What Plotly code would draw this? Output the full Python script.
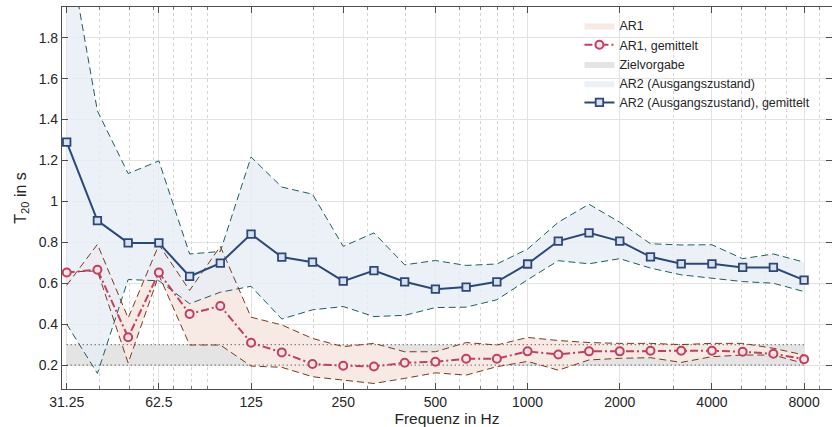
import plotly.graph_objects as go

# third-octave band centre frequencies (Hz)
freqs = [31.25, 39.37, 49.61, 62.5, 78.75, 99.21, 125, 157.49, 198.43, 250,
         314.98, 396.85, 500, 629.96, 793.7, 1000, 1259.92, 1587.4, 2000,
         2519.84, 3174.8, 4000, 5039.68, 6349.6, 8000]

ar2_mean = [1.29, 0.906, 0.797, 0.797, 0.633, 0.698, 0.84, 0.728, 0.703, 0.61,
            0.662, 0.607, 0.571, 0.581, 0.607, 0.694, 0.806, 0.846, 0.806,
            0.729, 0.695, 0.695, 0.677, 0.677, 0.615]
ar2_upper = [2.29, 1.442, 1.136, 1.198, 0.743, 0.755, 1.217, 1.07, 1.035, 0.78,
             0.846, 0.69, 0.711, 0.687, 0.694, 0.767, 0.898, 0.986, 0.898,
             0.793, 0.787, 0.788, 0.72, 0.743, 0.703]
ar2_lower = [0.4, 0.159, 0.618, 0.612, 0.5, 0.556, 0.585, 0.425, 0.47, 0.486,
             0.437, 0.443, 0.481, 0.483, 0.519, 0.617, 0.71, 0.695, 0.72,
             0.674, 0.641, 0.623, 0.608, 0.6, 0.559]

ar1_mean = [0.652, 0.666, 0.336, 0.652, 0.45, 0.489, 0.309, 0.262, 0.205, 0.197,
            0.193, 0.211, 0.216, 0.231, 0.231, 0.267, 0.252, 0.267, 0.267,
            0.27, 0.27, 0.27, 0.265, 0.255, 0.229]
ar1_bound_a = [0.59, 0.79, 0.43, 0.788, 0.565, 0.78, 0.434, 0.396, 0.33, 0.29,
               0.306, 0.265, 0.265, 0.31, 0.298, 0.335, 0.32, 0.31, 0.306,
               0.306, 0.3, 0.306, 0.306, 0.282, 0.249]
ar1_bound_b = [0.655, 0.66, 0.21, 0.64, 0.298, 0.298, 0.195, 0.189, 0.143, 0.126,
               0.11, 0.135, 0.162, 0.151, 0.192, 0.218, 0.175, 0.225, 0.233,
               0.236, 0.213, 0.241, 0.249, 0.249, 0.208]

ziel_low, ziel_high = 0.2, 0.3

x_tickvals = [31.25, 62.5, 125, 250, 500, 1000, 2000, 4000, 8000]
x_ticktext = ["31.25", "62.5", "125", "250", "500", "1000", "2000", "4000", "8000"]
x_minor = [40, 50, 60, 70, 80, 90, 200, 300, 400, 600, 700, 800, 900,
           3000, 5000, 6000, 7000, 9000]
y_tickvals = [0.2, 0.4, 0.6, 0.8, 1.0, 1.2, 1.4, 1.6, 1.8]
y_ticktext = ["0.2", "0.4", "0.6", "0.8", "1", "1.2", "1.4", "1.6", "1.8"]

C_AR1 = "#c0415f"
C_AR1_B = "#7a3a1c"
C_AR2 = "#2c4877"
C_AR2_B = "#1d5e5e"
TXT = "#262626"

fig = go.Figure()

# Zielvorgabe band
zx = [freqs[0], freqs[-1], freqs[-1], freqs[0], freqs[0]]
zy = [ziel_low, ziel_low, ziel_high, ziel_high, ziel_low]
fig.add_trace(go.Scatter(x=zx, y=zy, fill="toself", mode="lines",
                         fillcolor="rgb(228,228,228)", line=dict(width=0),
                         name="Zielvorgabe", legendrank=3, hoverinfo="skip"))

# AR1 band
fig.add_trace(go.Scatter(x=freqs + freqs[::-1], y=ar1_bound_a + ar1_bound_b[::-1],
                         fill="toself", mode="lines", fillcolor="rgb(247,234,228)",
                         line=dict(width=0), name="AR1", legendrank=1,
                         hoverinfo="skip"))

# AR2 band
fig.add_trace(go.Scatter(x=freqs + freqs[::-1], y=ar2_upper + ar2_lower[::-1],
                         fill="toself", mode="lines",
                         fillcolor="rgba(232,238,247,0.82)",
                         line=dict(width=0), name="AR2 (Ausgangszustand)",
                         legendrank=4, hoverinfo="skip"))

# Zielvorgabe dotted edges
for yv in (ziel_low, ziel_high):
    fig.add_trace(go.Scatter(x=[freqs[0], freqs[-1]], y=[yv, yv], mode="lines",
                             line=dict(color="#555555", width=1.3, dash="1px,3px"),
                             showlegend=False, hoverinfo="skip"))

# band boundary lines
for arr in (ar2_upper, ar2_lower):
    fig.add_trace(go.Scatter(x=freqs, y=arr, mode="lines",
                             line=dict(color=C_AR2_B, width=1, dash="7px,4px"),
                             showlegend=False, hoverinfo="skip"))
for arr in (ar1_bound_a, ar1_bound_b):
    fig.add_trace(go.Scatter(x=freqs, y=arr, mode="lines",
                             line=dict(color=C_AR1_B, width=1, dash="7px,4px"),
                             showlegend=False, hoverinfo="skip"))

# means
fig.add_trace(go.Scatter(x=freqs, y=ar1_mean, mode="lines+markers",
                         name="AR1, gemittelt", legendrank=2,
                         line=dict(color=C_AR1, width=2, dash="8px,3px,2px,3px"),
                         marker=dict(symbol="circle", size=8, color="#f6e3e8",
                                     line=dict(color=C_AR1, width=2))))
fig.add_trace(go.Scatter(x=freqs, y=ar2_mean, mode="lines+markers",
                         name="AR2 (Ausgangszustand), gemittelt", legendrank=5,
                         line=dict(color=C_AR2, width=2),
                         marker=dict(symbol="square", size=7.5, color="#d9e1ee",
                                     line=dict(color=C_AR2, width=1.8))))

fig.update_layout(
    width=832, height=427,
    margin=dict(l=62, r=0, t=7, b=38),
    paper_bgcolor="white", plot_bgcolor="white",
    font=dict(family="Liberation Sans, Arial, sans-serif", color=TXT, size=14),
    legend=dict(x=0.672, y=0.99, xanchor="left", yanchor="top",
                bgcolor="rgba(0,0,0,0)", font=dict(size=12.5), traceorder="normal"),
)
fig.update_xaxes(
    type="log", range=[1.4795, 3.9942],
    tickmode="array", tickvals=x_tickvals, ticktext=x_ticktext,
    showgrid=True, gridcolor="#e2e2e2", gridwidth=1,
    ticks="inside", ticklen=6, tickcolor="#4d4d4d",
    showline=True, linecolor="#4d4d4d", linewidth=1.2, mirror="ticks",
    minor=dict(tickvals=x_minor, ticks="inside", ticklen=3, tickcolor="#777777",
               showgrid=True, gridcolor="#d4d4d4", griddash="dot", gridwidth=1),
    title=dict(text="Frequenz in Hz", font=dict(size=15.5), standoff=2),
    tickfont=dict(size=14), zeroline=False,
)
fig.update_yaxes(
    range=[0.083, 1.95], tickmode="array", tickvals=y_tickvals, ticktext=y_ticktext,
    showgrid=True, gridcolor="#e2e2e2", gridwidth=1,
    ticks="inside", ticklen=6, tickcolor="#4d4d4d",
    showline=True, linecolor="#4d4d4d", linewidth=1.2, mirror="ticks",
    title=dict(text="T<sub>20</sub> in s", font=dict(size=16), standoff=8),
    tickfont=dict(size=14), zeroline=False,
)

fig.write_html("out.html")
